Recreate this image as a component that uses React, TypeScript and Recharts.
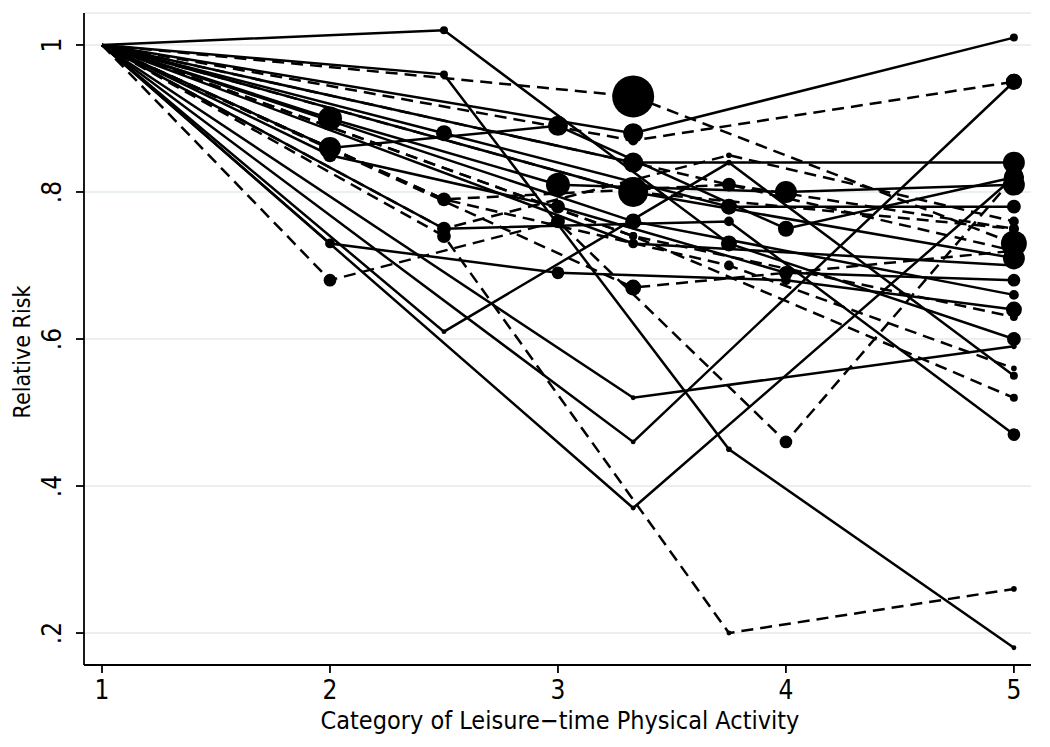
import { LineChart, Line, XAxis, YAxis, CartesianGrid } from "recharts";

// category positions on the x axis, by number of activity levels a study reported
const cat5 = [1, 2, 3, 4, 5];
const cat4 = [1, 2.5, 3.75, 5];
const cat3 = [1, 3.33, 5];

// relative risks (reference category = 1)
const rr5 = [
  [1, 0.9, 0.81, 0.8, 0.81],
  [1, 0.86, 0.89, 0.75, 0.82],
  [1, 0.85, 0.78, 0.69, 0.68],
  [1, 0.73, 0.69, 0.68, 0.64],
  [1, 0.68, 0.76, 0.46, 0.82],
];
const wt5 = [
  [0, 36, 36, 30, 30],
  [0, 30, 25, 16, 25],
  [0, 12, 12, 12, 10],
  [0, 6, 10, 6, 16],
  [0, 10, 12, 10, 16],
];
const dash5 = [false, false, false, false, true];

const rr4 = [
  [1, 1.02, 0.73, 0.6],
  [1, 0.96, 0.45, 0.18],
  [1, 0.74, 0.2, 0.26],
  [1, 0.61, 0.84, 0.55],
  [1, 0.75, 0.85, 0.76],
  [1, 0.88, 0.78, 0.78],
  [1, 0.79, 0.81, 0.75],
  [1, 0.79, 0.7, 0.56],
  [1, 0.75, 0.76, 0.47],
];
const wt4 = [
  [0, 4, 16, 12],
  [0, 4, 2, 1.5],
  [0, 12, 1.5, 2],
  [0, 1.5, 2, 4],
  [0, 12, 2, 6],
  [0, 16, 16, 12],
  [0, 12, 12, 6],
  [0, 6, 6, 2],
  [0, 6, 6, 10],
];
const dash4 = [false, false, true, false, true, false, true, true, false];

const rr3 = [
  [1, 0.93, 0.73],
  [1, 0.88, 1.01],
  [1, 0.87, 0.95],
  [1, 0.84, 0.84],
  [1, 0.8, 0.71],
  [1, 0.76, 0.66],
  [1, 0.74, 0.52],
  [1, 0.73, 0.7],
  [1, 0.67, 0.72],
  [1, 0.52, 0.59],
  [1, 0.46, 0.95],
  [1, 0.37, 0.82],
  [1, 0.74, 0.63],
  [1, 0.84, 0.72],
  [1, 0.8, 0.75],
];
const wt3 = [
  [0, 110, 42],
  [0, 25, 4],
  [0, 6, 16],
  [0, 25, 30],
  [0, 56, 30],
  [0, 16, 6],
  [0, 4, 4],
  [0, 6, 4],
  [0, 16, 6],
  [0, 1.5, 2],
  [0, 1.5, 16],
  [0, 1.5, 25],
  [0, 4, 4],
  [0, 12, 6],
  [0, 20, 6],
];
const dash3 = [true, false, true, false, false, false, true, false, true, false, false, false, true, true, true];

const xTicks = [1, 2, 3, 4, 5];
const yTicks = [0.2, 0.4, 0.6, 0.8, 1];

type Pt = { x: number; rr: number; w: number };

function build(cats: number[], rr: number[][], wt: number[][], dash: boolean[]) {
  return rr.map((row, i) => ({
    data: row.map((v, j): Pt => ({ x: cats[j], rr: v, w: wt[i][j] })),
    dashed: dash[i],
  }));
}

const studies = [
  ...build(cat5, rr5, wt5, dash5),
  ...build(cat4, rr4, wt4, dash4),
  ...build(cat3, rr3, wt3, dash3),
];

const FONT = "'DejaVu Sans Condensed', 'Liberation Sans Narrow', sans-serif";

function WeightDot(props: any) {
  const { cx, cy, payload, index } = props;
  if (!payload || !payload.w) return <g key={`d${index}`} />;
  return <circle key={`d${index}`} cx={cx} cy={cy} r={Math.sqrt(payload.w) * 2} fill="#000" stroke="none" />;
}

function fmtY(v: number) {
  return v === 1 ? "1" : String(v).replace(/^0/, "");
}

function YTick({ x, y, payload }: any) {
  const tx = x - 13;
  return (
    <text x={tx} y={y} transform={`rotate(-90 ${tx} ${y})`} textAnchor="middle" fontSize={26} fontFamily={FONT} fill="#000">
      {fmtY(payload.value)}
    </text>
  );
}

function XTick({ x, y, payload }: any) {
  return (
    <text x={x} y={y + 24} textAnchor="middle" fontSize={26} fontFamily={FONT} fill="#000">
      {payload.value}
    </text>
  );
}

export default function App() {
  return (
    <div style={{ position: "absolute", left: 0, top: 0, width: 1050, height: 747, background: "#fff" }}>
      <LineChart width={1050} height={747} margin={{ top: 13, right: 19, left: 0, bottom: 0 }}>
        <CartesianGrid vertical={false} stroke="#e3eaed" strokeWidth={1.5} />
        <XAxis
          dataKey="x"
          type="number"
          domain={[0.921, 5.075]}
          ticks={xTicks}
          allowDataOverflow
          height={82}
          tickSize={8}
          tick={<XTick />}
          axisLine={{ stroke: "#000", strokeWidth: 1.8 }}
          tickLine={{ stroke: "#000", strokeWidth: 1.8 }}
        />
        <YAxis
          type="number"
          domain={[0.1565, 1.0435]}
          ticks={yTicks}
          allowDataOverflow
          width={84}
          tickSize={8}
          tick={<YTick />}
          axisLine={{ stroke: "#000", strokeWidth: 1.8 }}
          tickLine={{ stroke: "#000", strokeWidth: 1.8 }}
        />
        {studies.map((s, i) => (
          <Line
            key={i}
            data={s.data}
            dataKey="rr"
            type="linear"
            stroke="#000"
            strokeWidth={2.5}
            strokeDasharray={s.dashed ? "12 7" : undefined}
            dot={WeightDot}
            activeDot={false}
            legendType="none"
            isAnimationActive={false}
          />
        ))}
      </LineChart>
      <svg width={1050} height={747} style={{ position: "absolute", left: 0, top: 0, pointerEvents: "none" }}>
        <text x={30} y={352} transform="rotate(-90 30 352)" textAnchor="middle" fontSize={23} fontFamily={FONT} fill="#000">
          Relative Risk
        </text>
        <text x={560} y={729} textAnchor="middle" fontSize={25} fontFamily={FONT} fill="#000">
          Category of Leisure−time Physical Activity
        </text>
      </svg>
    </div>
  );
}
